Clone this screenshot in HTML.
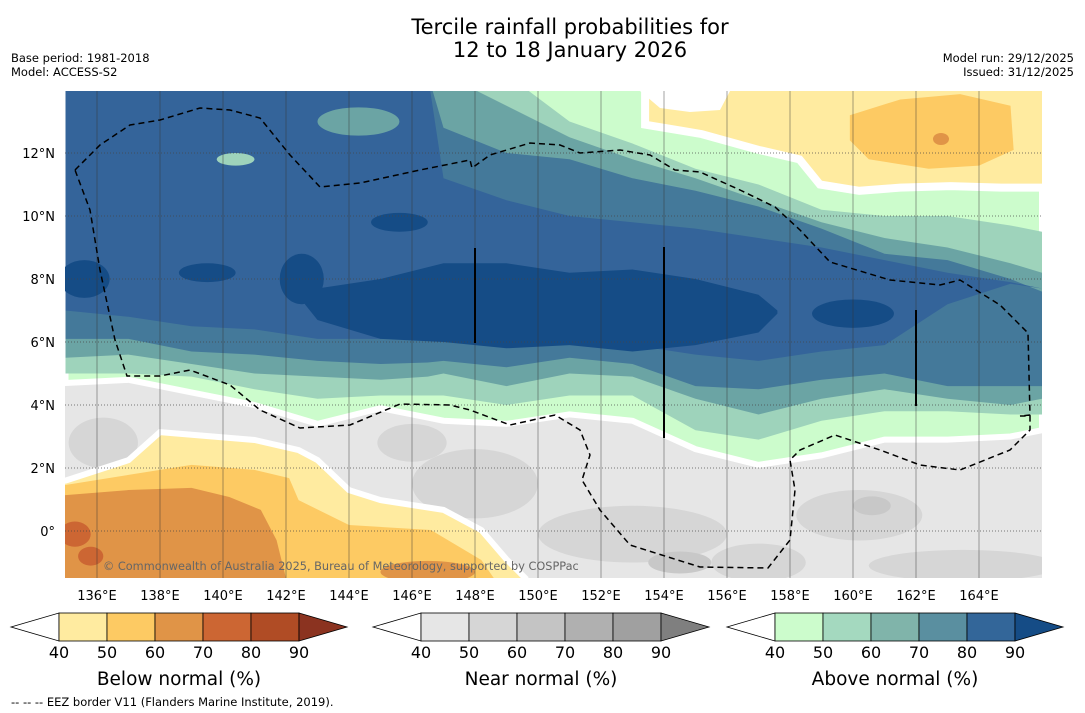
<!DOCTYPE html>
<html><head><meta charset="utf-8">
<style>
body{margin:0;background:#fff;font-family:"DejaVu Sans","Liberation Sans",sans-serif;}
#wrap{position:relative;width:1085px;height:713px;overflow:hidden;background:#fff;}
</style></head>
<body>
<div id="wrap">
<svg id="svg" width="1085" height="713" xmlns="http://www.w3.org/2000/svg" font-family="DejaVu Sans, Liberation Sans, sans-serif">
<defs><clipPath id="mapclip"><rect x="65" y="91" width="977" height="487"/></clipPath></defs>
<text x="570" y="34" font-size="21" text-anchor="middle" fill="#000">Tercile rainfall probabilities for</text>
<text x="570" y="57" font-size="21" text-anchor="middle" fill="#000">12 to 18 January 2026</text>
<text x="11" y="62" font-size="11.5">Base period: 1981-2018</text>
<text x="11" y="76" font-size="11.5">Model: ACCESS-S2</text>
<text x="1074" y="62" font-size="11.5" text-anchor="end">Model run: 29/12/2025</text>
<text x="1074" y="76" font-size="11.5" text-anchor="end">Issued: 31/12/2025</text>
<g id="map" clip-path="url(#mapclip)"></g>
<g id="axes"></g>
<g id="cbars"></g>
<text x="11" y="706" font-size="11.5">--  --  -- EEZ border V11 (Flanders Marine Institute, 2019).</text>
</svg>
</div>
<script>
const lons=[135,137,139,141,143,145,146.5,147,149,151,153,155,157,159,161,163,165,166];
const above40Low=[4.7,4.8,4.4,4.0,3.4,3.9,3.6,3.5,3.4,3.7,3.5,2.6,2.1,2.4,2.9,2.9,3.0,3.2];
const above40Up=[14.5,14.5,14.5,14.5,14.5,14.5,14.5,14.5,14.5,14.5,14.5,12.8,12.3,11.5,11.2,11.3,11.5,11.8];
const above50Low=[5.0,5.0,4.9,4.5,4.2,4.3,4.3,4.3,4.0,4.3,4.3,3.2,2.9,3.5,3.8,3.8,3.7,3.7];
const above50Up=[14.5,14.5,14.5,14.5,14.5,14.5,14.5,14.5,14.5,13.0,12.3,11.5,11.0,10.2,10.0,10.0,9.7,9.5];
const above60Low=[5.5,5.6,5.3,5.0,4.9,4.8,4.9,5.0,4.6,5.0,4.9,4.2,3.7,4.2,4.5,4.2,4.0,4.2];
const above60Up=[14.5,14.5,14.5,14.5,14.5,14.5,14.5,14.5,13.5,12.5,11.8,11.2,10.5,9.8,9.3,9.0,8.5,8.2];
const above70Low=[6.1,6.1,5.7,5.6,5.4,5.3,5.35,5.4,5.2,5.5,5.3,4.6,4.5,4.8,5.0,4.6,4.6,4.6];
const above70Up=[14.5,14.5,14.5,14.5,14.5,14.5,14.5,12.8,12.0,11.8,11.2,10.8,10.3,9.6,8.8,8.6,8.0,7.6];
const above80Low=[7.0,6.8,6.5,6.4,6.1,6.1,6.15,6.2,5.9,6.1,5.9,5.6,5.4,5.7,5.9,7.2,7.85,7.7];
const above80Up=[14.5,14.5,14.5,14.5,14.5,14.5,14.5,11.2,10.5,10.0,9.8,9.6,9.3,9.0,8.6,8.2,7.9,7.7];
const lons90=[142.6,143,145,147,149,151,153,155,157,157.6];
const above90Low=[7.2,6.7,6.1,6.0,5.8,5.9,5.7,5.9,6.3,6.9];
const above90Up=[7.2,7.7,8.0,8.5,8.5,8.2,8.3,8.0,7.5,7.0];
const below40Lon=[135,137,138,141,142.4,143,144,145,147,148.2,149,149.6];
const below40Lat=[1.6,2.25,3.14,2.89,2.57,2.25,1.3,0.98,0.67,0.03,-0.9,-1.5];
const below50Lon=[135,137,139,141,142.1,142.4,144,146.6,148.2,148.6];
const below50Lat=[1.46,1.78,2.1,1.94,1.68,0.98,0.19,0.03,-0.92,-1.5];
const below60Lon=[135,137,139,140.2,141.2,141.7,142];
const below60Lat=[1.14,1.3,1.37,1.08,0.67,-0.29,-1.5];
const topBelowLon=[153.4,155.2,157.0,158.3,158.95,160.2,161.5,163.1,164.7,166.5];
const topBelowLat=[12.9,12.6,12.1,11.8,11.0,10.8,10.9,10.95,10.9,10.9];
const topBelow50Lon=[159.9,161.5,163.4,165.0,165.1,164.0,162.4,160.5,159.9];
const topBelow50Lat=[13.2,13.7,13.87,13.5,12.1,11.6,11.5,11.8,12.4];
// blobs: [lon, lat, rxDeg, ryDeg]
const blobs90=[[135.6,8.0,0.8,0.6],[139.5,8.2,0.9,0.3],[142.5,8.0,0.7,0.8],[145.6,9.8,0.9,0.3],[160.0,6.9,1.3,0.45]];
const blobs60=[[144.3,13.0,1.3,0.45]];
const blobs40=[[140.4,11.8,0.6,0.2]];
const grayBlobs50=[[148,1.5,2,1.1],[153,-0.1,3,0.9],[160.2,0.5,2,0.8],[163.5,-1.1,3,0.5],[146,2.8,1.1,0.6],[157,-1.0,1.5,0.6],[136.2,2.8,1.1,0.8],[146.2,-0.8,1,0.4]];
const grayBlobs60=[[154.5,-1.0,1,0.35],[160.6,0.8,0.6,0.3]];
const below60Blobs=[[146.5,-1.3,1.5,0.35]];
const below70Blobs=[[135.3,-0.1,0.5,0.4],[135.8,-0.8,0.4,0.3]];
const lonTicks=[136,138,140,142,144,146,148,150,152,154,156,158,160,162,164];
const latTicks=[0,2,4,6,8,10,12];
const cbTicks=[40,50,60,70,80,90];
const belowColors=["#ffeba0","#fdca63","#e09447","#cc6633","#b04c25","#8b3320"];
const nearColors=["#e6e6e6","#d6d6d6","#c4c4c4","#b0b0b0","#a0a0a0","#7f7f7f"];
const aboveColors=["#ccfccc","#a4d9bf","#80b4aa","#5a8fa0","#336699","#154c86"];
const mapAbove=["#ccfccc","#9ed3bb","#6ba4a4","#44799a","#34649a","#154c86"];

const NS="http://www.w3.org/2000/svg";
const X=lon=>97+(lon-136)*31.5;
const Y=lat=>531-lat*31.5;
const map=document.getElementById('map');
function mk(tag,attrs,parent){const e=document.createElementNS(NS,tag);for(const k in attrs)e.setAttribute(k,attrs[k]);parent.appendChild(e);return e;}
function band(ls,low,up,fill,name,stroke){
  let d="M"+ls.map((l,i)=>X(l)+","+Y(low[i])).join("L");
  for(let i=ls.length-1;i>=0;i--)d+="L"+X(ls[i])+","+Y(up[i]);
  const p=mk('path',{d:d+"Z",fill:fill,stroke:stroke?"#fff":"none","stroke-width":stroke?6:0},map);
  
  
}
function south(ls,lats,fill,name,stroke){
  let d="M"+X(ls[0]-3)+","+Y(-3)+"L"+X(ls[0]-3)+","+Y(lats[0])+"L"+ls.map((l,i)=>X(l)+","+Y(lats[i])).join("L")+"L"+X(ls[ls.length-1])+","+Y(-3)+"Z";
  const p=mk('path',{d:d,fill:fill,stroke:stroke?"#fff":"none","stroke-width":stroke?6:0},map);
  
  
}
function blob(arr,fill,name){arr.forEach(b=>{const e=mk('ellipse',{cx:X(b[0]),cy:Y(b[1]),rx:b[2]*31.5,ry:b[3]*31.5,fill:fill},map);
  
  });}
mk('rect',{x:65,y:91,width:977,height:487,fill:"#e6e6e6"},map);
blob(grayBlobs50,"#d6d6d6","near-normal-50-patch");
blob(grayBlobs60,"#c8c8c8","near-normal-60-patch");
band(lons,above40Low,above40Up,mapAbove[0],"above-normal-40-band",true);
band(lons,above50Low,above50Up,mapAbove[1],"above-normal-50-band");
band(lons,above60Low,above60Up,mapAbove[2],"above-normal-60-band");
band(lons,above70Low,above70Up,mapAbove[3],"above-normal-70-band");
band(lons,above80Low,above80Up,mapAbove[4],"above-normal-80-band");
blob(blobs60,mapAbove[2],"above-normal-60-patch");
blob(blobs40,mapAbove[1],"above-normal-50-patch");
band(lons90,above90Low,above90Up,mapAbove[5],"above-normal-90-band");
blob(blobs90,mapAbove[5],"above-normal-90-patch");
south(below40Lon,below40Lat,belowColors[0],"below-normal-40-region",true);
south(below50Lon,below50Lat,belowColors[1],"below-normal-50-region");
south(below60Lon,below60Lat,belowColors[2],"below-normal-60-region");
blob(below60Blobs,belowColors[2],"below-normal-60-patch");
blob(below70Blobs,belowColors[3],"below-normal-70-patch");
(function(){let d="M"+X(topBelowLon[0])+","+Y(15)+"L"+topBelowLon.map((l,i)=>X(l)+","+Y(topBelowLat[i])).join("L")+"L"+X(167)+","+Y(15)+"Z";
const p=mk('path',{d:d,fill:belowColors[0],stroke:"#fff","stroke-width":8},map);


const q=mk('path',{d:"M"+topBelow50Lon.map((l,i)=>X(l)+","+Y(topBelow50Lat[i])).join("L")+"Z",fill:belowColors[1]},map);


const w=mk('path',{d:"M640,91L730,91L720,110L690,112L660,108Z",fill:"#fff"},map);


const o=mk('ellipse',{cx:941,cy:139,rx:8,ry:6,fill:belowColors[2]},map);

})();
// grid
lonTicks.forEach(l=>{const g=mk('line',{x1:X(l),x2:X(l),y1:91,y2:578,stroke:"#333","stroke-width":1,"stroke-opacity":0.45},map);

});
latTicks.forEach(l=>{const g=mk('line',{x1:65,x2:1042,y1:Y(l),y2:Y(l),stroke:"#444","stroke-width":1,"stroke-dasharray":"1,2","stroke-opacity":0.7},map);

});
// EEZ
const eez=[[75,170],[100,145],[130,125],[160,120],[200,108],[230,110],[260,118],[290,155],[320,187],[360,183],[420,170],[470,160],[472,168],[490,155],[530,143],[560,145],[580,153],[620,150],[650,155],[675,170],[700,172],[740,190],[775,207],[800,230],[830,262],[890,280],[940,285],[960,280],[1000,305],[1028,333],[1030,415],[1020,416],[1030,416],[1030,430],[1010,450],[960,470],[920,465],[880,450],[835,435],[800,450],[790,460],[795,490],[790,540],[768,568],[700,567],[630,545],[600,510],[582,480],[590,455],[580,430],[555,415],[510,425],[470,410],[450,405],[400,404],[350,425],[300,428],[260,410],[230,385],[190,370],[160,376],[127,376],[115,340],[100,270],[90,210],[75,170]];
const ep=mk('path',{d:"M"+eez.map(p=>p.join(",")).join("L"),fill:"none",stroke:"#000","stroke-width":1.5,"stroke-dasharray":"6,4"},map);


[[475,248,343],[664,247,438],[916,310,406]].forEach(v=>{const l=mk('line',{x1:v[0],x2:v[0],y1:v[1],y2:v[2],stroke:"#000","stroke-width":2},map);

});
const cp=mk('text',{x:103,y:570,"font-size":11.3,fill:"#666"},map);cp.textContent="© Commonwealth of Australia 2025, Bureau of Meteorology, supported by COSPPac";


// axes labels
const ax=document.getElementById('axes');
lonTicks.forEach(l=>{const t=mk('text',{x:X(l),y:600,"font-size":13,"text-anchor":"middle"},ax);t.textContent=l+"°E";

});
latTicks.forEach(l=>{const t=mk('text',{x:55,y:Y(l)+5,"font-size":13,"text-anchor":"end"},ax);t.textContent=l===0?"0°":l+"°N";

});
// colorbars
const cb=document.getElementById('cbars');
function cbar(x0,cols,title,name){
  const g=mk('g',{},cb);
  
  
  const y0=613,h=28,w=48;
  mk('polygon',{points:`${x0},${y0+h/2} ${x0+w},${y0} ${x0+w},${y0+h}`,fill:"#fff",stroke:"#000","stroke-width":0.8},g);
  for(let i=0;i<5;i++){mk('rect',{x:x0+w*(i+1),y:y0,width:w,height:h,fill:cols[i],stroke:"#000","stroke-width":0.8},g);}
  mk('polygon',{points:`${x0+6*w},${y0} ${x0+7*w},${y0+h/2} ${x0+6*w},${y0+h}`,fill:cols[5],stroke:"#000","stroke-width":0.8},g);
  cbTicks.forEach((v,i)=>{const t=mk('text',{x:x0+w*(i+1),y:658,"font-size":16,"text-anchor":"middle"},g);t.textContent=v;
  
  });
  const t=mk('text',{x:x0+3.5*w,y:685,"font-size":18.5,"text-anchor":"middle"},g);t.textContent=title;
  
  
}
cbar(11,belowColors,"Below normal (%)","below-normal-colorbar");
cbar(373,nearColors,"Near normal (%)","near-normal-colorbar");
cbar(727,aboveColors,"Above normal (%)","above-normal-colorbar");
</script>
</body></html>
